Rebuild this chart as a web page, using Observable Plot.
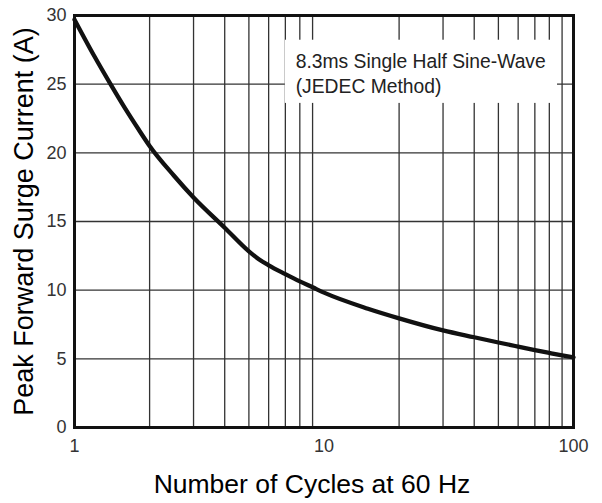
<!DOCTYPE html>
<html>
<head>
<meta charset="utf-8">
<script src="https://cdn.jsdelivr.net/npm/d3@7"></script>
<script src="https://cdn.jsdelivr.net/npm/@observablehq/plot@0.6"></script>
<style>
  html, body { margin: 0; padding: 0; background: #fff; }
  svg { display: block; }
</style>
</head>
<body>
<div id="chart"></div>
<script>
// Number of cycles at 60 Hz (x) and peak forward surge current in A (y)
const cycles  = [1, 1.2, 1.4, 1.6, 1.8, 2, 2.5, 3, 4, 5, 5.5, 6, 7, 8, 9, 10, 15, 20, 30, 40, 50, 60, 70, 80, 90, 100];
const current = [29.7, 27.05, 24.95, 23.2, 21.75, 20.5, 18.35, 16.75, 14.55, 12.83, 12.23, 11.81, 11.17, 10.64, 10.21, 9.82, 8.65, 7.95, 7.07, 6.57, 6.19, 5.89, 5.64, 5.43, 5.25, 5.10];

const xTicks = [1, 10, 100];
const yTicks = [0, 5, 10, 15, 20, 25, 30];
const xGrid = [2, 3, 4, 5, 6, 7, 8, 9, 20, 30, 40, 50, 60, 70, 80, 90];
const yGrid = [5, 10, 15, 20, 25];

const xTitle = "Number of Cycles at 60 Hz";
const yTitle = "Peak Forward Surge Current (A)";
const note = ["8.3ms Single Half Sine-Wave\n(JEDEC Method)"];

const data = cycles.map((c, i) => ({cycles: c, current: current[i]}));

const chart = Plot.plot({
  width: 602,
  height: 503,
  marginLeft: 74,
  marginRight: 29,
  marginTop: 15,
  marginBottom: 76,
  x: {type: "log", domain: [1, 100]},
  y: {domain: [0, 30]},
  style: {fontFamily: "'Liberation Sans', Arial, sans-serif", background: "#fff", color: "#222"},
  marks: [
    Plot.ruleX(xGrid, {stroke: "#333", strokeWidth: 1.3}),
    Plot.ruleY(yGrid, {stroke: "#333", strokeWidth: 1.3}),
    Plot.rect([0], {x1: 7.0, x2: 86.3, y1: 23.6, y2: 28.2, fill: "#fff"}),
    Plot.text(note, {x: 7.7, y: 27.45, text: d => d, textAnchor: "start", lineAnchor: "top", lineHeight: 1.3, fontSize: 19.3, fill: "#222"}),
    Plot.line(data, {x: "cycles", y: "current", curve: "monotone-x", stroke: "#111", strokeWidth: 4.3}),
    Plot.frame({stroke: "#111", strokeWidth: 3}),
    Plot.axisX({ticks: xTicks, tickSize: 0, tickPadding: 12, tickFormat: d => String(d), fontSize: 18, label: null, fill: "#333"}),
    Plot.axisY({ticks: yTicks, tickSize: 0, tickPadding: 8, fontSize: 18, label: null, fill: "#333"}),
    Plot.text([xTitle], {frameAnchor: "bottom", text: d => d, dx: -12, dy: 57, textAnchor: "middle", lineAnchor: "middle", fontSize: 26.5, fill: "#000"}),
    Plot.text([yTitle], {frameAnchor: "left", text: d => d, rotate: -90, dx: -50, textAnchor: "middle", lineAnchor: "middle", fontSize: 27, fill: "#000"})
  ]
});

document.getElementById("chart").appendChild(chart);
</script>
</body>
</html>
